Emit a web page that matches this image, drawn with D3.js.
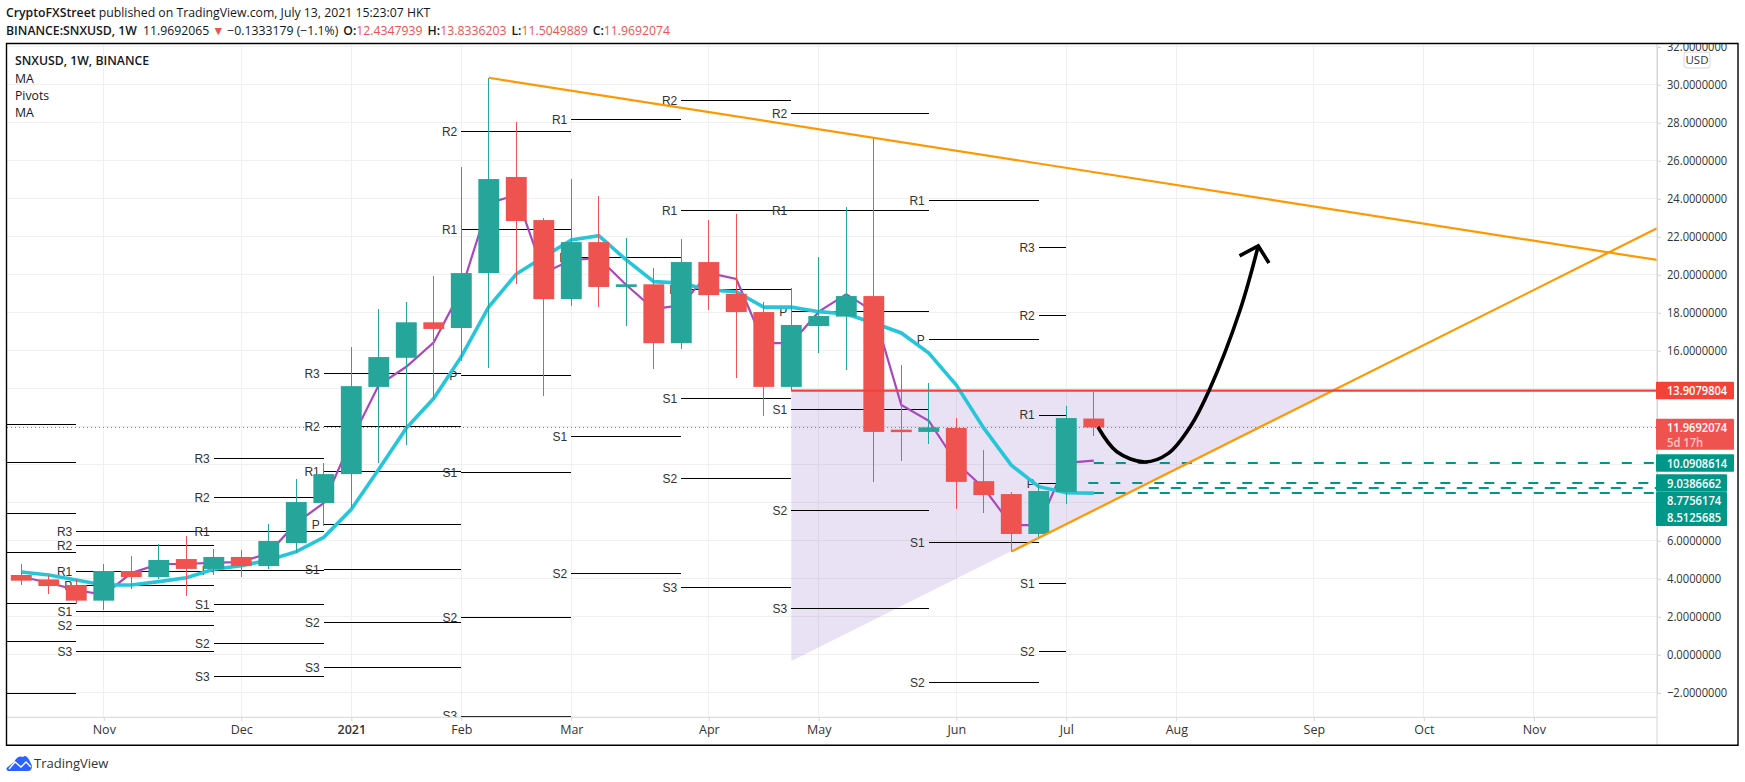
<!DOCTYPE html>
<html>
<head>
<meta charset="utf-8">
<script src="https://cdn.jsdelivr.net/npm/d3@7"></script>
<style>
    html, body { margin: 0; padding: 0; background: #fff; }
    svg { display: block; }
    text { font-family: "Open Sans", "Noto Sans", sans-serif; }
    .head { font-size: 12.25px; fill: #131722; }
    .pivot { font-family: "Liberation Sans", sans-serif; font-size: 12px; fill: #333; }
    .axis text { font-size: 12.5px; fill: #333; }
    .axis line, .axis path { stroke: #d6d6d6; }
</style>
</head>
<body>
<div id="chart"></div>
<script>
// weekly candles, index 0 = last week of Oct 2020
const opens = [4.2, 3.97, 3.67, 2.85, 4.41, 4.09, 5.04, 4.52, 5.15, 4.67, 5.88, 7.99, 9.51, 14.1, 15.63, 17.5, 17.2, 20.09, 25.15, 22.88, 18.72, 21.72, 19.36, 19.5, 16.4, 20.67, 19.0, 18.04, 14.1, 17.3, 17.8, 18.88, 11.85, 11.73, 11.94, 9.14, 8.46, 6.36, 8.57, 12.4348];
const highs = [4.78, 4.2, 3.99, 4.78, 5.2, 5.83, 6.25, 5.57, 5.51, 6.88, 9.25, 10.09, 16.2, 18.2, 18.56, 19.93, 25.7, 30.37, 28.04, 23.0, 25.04, 24.15, 21.96, 20.37, 21.9, 22.88, 23.2, 18.56, 19.3, 20.93, 23.57, 27.18, 15.25, 14.3, 12.46, 10.78, 8.57, 9.04, 13.09, 13.8336];
const lows = [3.67, 3.2, 2.69, 2.36, 3.46, 3.99, 3.09, 4.2, 4.09, 4.52, 5.36, 6.8, 7.73, 10.11, 11.04, 13.46, 15.46, 15.1, 19.5, 13.62, 18.36, 18.3, 17.3, 15.04, 16.1, 18.15, 14.57, 12.57, 13.9, 15.9, 14.98, 9.11, 10.2, 11.1, 7.67, 7.46, 5.43, 6.2, 7.94, 11.505];
const closes = [3.9, 3.62, 2.85, 4.41, 4.09, 4.99, 4.52, 5.15, 4.67, 5.99, 8.04, 9.51, 14.14, 15.67, 17.5, 17.15, 20.09, 25.04, 22.83, 18.72, 21.72, 19.36, 19.5, 16.4, 20.67, 18.93, 18.04, 14.1, 17.36, 17.83, 18.88, 11.73, 11.72, 11.97, 9.1, 8.41, 6.36, 8.62, 12.46, 11.9692];

const maShort = [4.11, 3.79, 3.41, 3.15, 4.3, 4.78, 4.78, 4.85, 4.88, 5.36, 6.94, 7.99, 11.3, 14.2, 15.16, 16.45, 19.2, 23.77, 24.2, 20.09, 20.78, 20.88, 19.46, 18.2, 18.4, 20.1, 19.78, 16.4, 16.4, 18.06, 18.98, 18.06, 13.15, 12.32, 10.1, 8.78, 6.83, 6.83, 10.1, 10.22];
const maLong = [4.36, 4.2, 3.94, 3.67, 3.67, 3.85, 4.06, 4.5, 4.69, 4.99, 5.43, 6.18, 7.66, 9.77, 11.93, 13.5, 15.69, 18.32, 20.04, 20.95, 21.83, 22.06, 20.78, 19.64, 19.56, 19.2, 19.11, 18.3, 18.3, 18.06, 17.94, 17.46, 16.94, 15.88, 14.2, 11.93, 9.98, 8.85, 8.53, 8.51];

const priceTicks = [32, 30, 28, 26, 24, 22, 20, 18, 16, 6, 4, 2, 0, -2];
const gridPrices = [32, 30, 28, 26, 24, 22, 20, 18, 16, 14, 12, 10, 8, 6, 4, 2, 0, -2];
const timeTicks = [3, 8, 12, 16, 20, 25, 29, 34, 38, 42, 47, 51, 55];
const timeLabels = ["Nov", "Dec", "2021", "Feb", "Mar", "Apr", "May", "Jun", "Jul", "Aug", "Sep", "Oct", "Nov"];

// pivot blocks: week span, then names and levels
const pivotSpans = [[-1, 2], [2, 7], [7, 11], [11, 16], [16, 20], [20, 24], [24, 28], [28, 33], [33, 37], [37, 38]];
const pivotNames = [
    ["", "", "", "", "", "", ""],
    ["R3", "R2", "R1", "P", "S1", "S2", "S3"],
    ["R3", "R2", "R1", "P", "S1", "S2", "S3"],
    ["R3", "R2", "R1", "P", "S1", "S2", "S3"],
    ["R2", "R1", "P", "S1", "S2", "S3"],
    ["R1", "P", "S1", "S2"],
    ["R2", "R1", "P", "S1", "S2", "S3"],
    ["R2", "R1", "P", "S1", "S2", "S3"],
    ["R1", "P", "S1", "S2"],
    ["R3", "R2", "R1", "P", "S1", "S2"]
];
const pivotLevels = [
    [12.13, 10.13, 7.45, 5.39, 2.71, 0.71, -2.03],
    [6.5, 5.76, 4.39, 3.66, 2.29, 1.55, 0.18],
    [10.34, 8.29, 6.5, 4.45, 2.66, 0.61, -1.13],
    [14.82, 12.0, 9.66, 6.87, 4.48, 1.71, -0.66],
    [27.55, 22.39, 14.71, 9.59, 1.98, -3.23],
    [28.18, 20.92, 11.5, 4.26],
    [29.18, 23.39, 19.24, 13.5, 9.29, 3.55],
    [28.5, 23.39, 18.08, 12.92, 7.6, 2.45],
    [23.92, 16.57, 5.92, -1.45],
    [21.45, 17.87, 12.62, 9.03, 3.76, 0.18]
];

// drawings, in week / price
const fallingLine = [[17, 30.37], [59.48, 20.78]];
const risingLine = [[36, 5.43], [59.48, 22.45]];
const resistanceLine = [[28, 13.908], [59.48, 13.908]];
const triangle = [[28, 13.908], [47.7, 13.908], [28, -0.33]];
const forecast = [[39.15, 11.99], [39.84, 10.69], [40.86, 10.15], [41.71, 10.6], [42.5, 11.99], [43.2, 13.94], [44.32, 18.15], [44.98, 21.52]];
const forecastHead = [[44.3, 21], [44.98, 21.52], [45.37, 20.62]];
const dashedLevels = [10.0908614, 9.0386662, 8.7756174, 8.5125685];
const dashedStarts = [39, 38.8, 41, 39];

const tagTexts = ["13.9079804", "11.9692074", "10.0908614", "9.0386662", "8.7756174", "8.5125685"];
const tagValues = [13.9079804, 11.9692074, 10.0908614, 9.0386662, 8.7756174, 8.5125685];
const tagColors = ["#f44336", "#ef5350", "#009688", "#009688", "#009688", "#009688"];
const tagShifts = [0, 0, 0, 0, 12.7, 24.3];

const width = 1745;
const height = 782;
const pane = { left: 6.5, right: 1657, top: 43.5, bottom: 717.3, outer: 1738, base: 745.3 };
const green = "#26a69a";
const red = "#ef5350";

const svg = d3.select("#chart").append("svg")
    .attr("width", width)
    .attr("height", height);

const x = d3.scaleLinear().domain([0, 55]).range([21.3, 1533.8]);
const y = d3.scaleLinear().domain([32, -2]).range([46.8, 692.8]);

const defs = svg.append("defs");
defs.append("clipPath").attr("id", "pane").append("rect")
    .attr("x", pane.left).attr("y", pane.top)
    .attr("width", pane.right - pane.left).attr("height", pane.bottom - pane.top);
defs.append("clipPath").attr("id", "priceClip").append("rect")
    .attr("x", pane.right).attr("y", pane.top)
    .attr("width", pane.outer - pane.right).attr("height", pane.bottom - pane.top);

const plot = svg.append("g").attr("clip-path", "url(#pane)");

// grid
plot.selectAll(".gh").data(gridPrices).enter().append("line")
    .attr("x1", pane.left).attr("x2", pane.right)
    .attr("y1", d => y(d)).attr("y2", d => y(d))
    .attr("stroke", "#f0f0f0").attr("shape-rendering", "crispEdges");
plot.selectAll(".gv").data(timeTicks).enter().append("line")
    .attr("x1", d => x(d)).attr("x2", d => x(d))
    .attr("y1", pane.top).attr("y2", pane.bottom)
    .attr("stroke", "#f0f0f0").attr("shape-rendering", "crispEdges");

const pt = d3.line().x(d => x(d[0])).y(d => y(d[1]));

plot.append("path")
    .attr("d", pt(triangle) + "Z")
    .attr("fill", "#673ab7")
    .attr("fill-opacity", 0.15);

// pivots
pivotSpans.forEach((span, b) => {
    pivotLevels[b].forEach((level, i) => {
        plot.append("line")
            .attr("x1", x(span[0])).attr("x2", x(span[1]))
            .attr("y1", y(level)).attr("y2", y(level))
            .attr("stroke", "#000").attr("shape-rendering", "crispEdges");
        plot.append("text")
            .attr("class", "pivot")
            .attr("x", x(span[0]) - 4).attr("y", y(level))
            .attr("dy", "0.36em")
            .attr("text-anchor", "end")
            .text(pivotNames[b][i]);
    });
});

// last price
plot.append("line")
    .attr("x1", pane.left).attr("x2", pane.right)
    .attr("y1", y(closes[39])).attr("y2", y(closes[39]))
    .attr("stroke", red).attr("stroke-dasharray", "1 3").attr("shape-rendering", "crispEdges");

const maLine = d3.line().x((d, i) => x(i)).y(d => y(d));
plot.append("path").attr("d", maLine(maShort)).attr("fill", "none").attr("stroke", "#ab47bc").attr("stroke-width", 2.2);
plot.append("path").attr("d", maLine(maLong)).attr("fill", "none").attr("stroke", "#26c6da").attr("stroke-width", 3.6);

// candles
const weeks = d3.range(opens.length);
const colour = i => closes[i] >= opens[i] ? green : red;
plot.selectAll(".wick").data(weeks).enter().append("line")
    .attr("x1", i => x(i)).attr("x2", i => x(i))
    .attr("y1", i => y(highs[i])).attr("y2", i => y(lows[i]))
    .attr("stroke", colour).attr("shape-rendering", "crispEdges");
const bodyWidth = (x(1) - x(0)) * 0.76;
plot.selectAll(".body").data(weeks).enter().append("rect")
    .attr("x", i => x(i) - bodyWidth / 2)
    .attr("y", i => y(Math.max(opens[i], closes[i])))
    .attr("width", bodyWidth)
    .attr("height", i => Math.max(2, Math.abs(y(opens[i]) - y(closes[i]))))
    .attr("fill", colour);

// drawings on top
plot.selectAll(".dash").data(dashedLevels).enter().append("line")
    .attr("x1", (d, i) => x(dashedStarts[i])).attr("x2", pane.right)
    .attr("y1", d => y(d)).attr("y2", d => y(d))
    .attr("stroke", "#009688").attr("stroke-width", 2).attr("stroke-dasharray", "10 12");
[fallingLine, risingLine].forEach(l => {
    plot.append("path").attr("d", pt(l)).attr("stroke", "#ff9800").attr("stroke-width", 2.2).attr("fill", "none");
});
plot.append("path").attr("d", pt(resistanceLine)).attr("stroke", "#f44336").attr("stroke-width", 2.2);
plot.append("path")
    .attr("d", d3.line().x(d => x(d[0])).y(d => y(d[1])).curve(d3.curveCatmullRom)(forecast))
    .attr("fill", "none").attr("stroke", "#000").attr("stroke-width", 3.6);
plot.append("path")
    .attr("d", pt(forecastHead))
    .attr("fill", "none").attr("stroke", "#000").attr("stroke-width", 3.6);

// axes
const squeeze = sel => sel.attr("textLength", function() { return this.textContent.length * 6.02; })
    .attr("lengthAdjust", "spacingAndGlyphs");

svg.append("g")
    .attr("clip-path", "url(#priceClip)")
    .append("g")
    .attr("class", "axis")
    .attr("transform", `translate(${pane.right},0)`)
    .call(d3.axisRight(y).tickValues(priceTicks).tickSize(4).tickPadding(6).tickFormat(d3.format(".7f")))
    .call(g => g.selectAll("text").style("font-size", "13px").call(squeeze));

svg.append("g")
    .attr("class", "axis")
    .attr("transform", `translate(0,${pane.bottom})`)
    .call(d3.axisBottom(x).tickValues(timeTicks).tickSize(4).tickPadding(4).tickFormat((d, i) => timeLabels[i]))
    .call(g => g.select(".domain").attr("d", `M${pane.left},0H${pane.right}`))
    .selectAll("text").attr("font-weight", (d, i) => timeLabels[i] === "2021" ? 600 : 400);

svg.append("line")
    .attr("x1", pane.right).attr("x2", pane.right)
    .attr("y1", pane.top).attr("y2", pane.base)
    .attr("stroke", "#d6d6d6");

// USD badge
svg.append("rect")
    .attr("x", 1684).attr("y", 52).attr("width", 26).attr("height", 16).attr("rx", 3)
    .attr("fill", "#fff").attr("stroke", "#d6d6e0");
svg.append("text")
    .attr("x", 1697).attr("y", 60).attr("dy", "0.36em")
    .attr("text-anchor", "middle").attr("font-size", 11.5).attr("fill", "#333").text("USD");

// price tags
tagTexts.forEach((t, i) => {
    const cy = y(tagValues[i]) + tagShifts[i];
    const big = i < 3;
    svg.append("rect")
        .attr("x", pane.right - 1).attr("y", cy - 8.7)
        .attr("width", big ? 78 : 71).attr("height", i === 1 ? 31 : 17.4)
        .attr("rx", 1).attr("fill", tagColors[i]);
    svg.append("text")
        .attr("x", pane.right + 10).attr("y", cy).attr("dy", "0.36em")
        .attr("font-size", 13).attr("font-weight", 600).attr("fill", "#fff").text(t)
        .call(squeeze);
});
svg.append("text")
    .attr("x", pane.right + 10).attr("y", y(tagValues[1]) + 15).attr("dy", "0.36em")
    .attr("font-size", 13).attr("font-weight", 600).attr("fill", "#fbc7c6").text("5d 17h")
    .call(squeeze);

// frame
svg.append("path")
    .attr("d", `M${pane.left},${pane.top}H${pane.outer}V${pane.base}H${pane.left}Z`)
    .attr("fill", "none").attr("stroke", "#000").attr("stroke-width", 1.4);

// header
const head1 = svg.append("text").attr("class", "head").attr("x", 6).attr("y", 17);
head1.append("tspan").attr("font-weight", 600).text("CryptoFXStreet");
head1.append("tspan").text(" published on TradingView.com, July 13, 2021 15:23:07 HKT");

const head2 = svg.append("text").attr("class", "head").attr("x", 6).attr("y", 34.5);
head2.append("tspan").attr("font-weight", 600).text("BINANCE:SNXUSD, 1W");
head2.append("tspan").attr("dx", 6).text("11.9692065");
head2.append("tspan").attr("dx", 3).attr("fill", red).text("▼");
head2.append("tspan").attr("dx", 3).text("−0.1333179 (−1.1%)");
[["O:", "12.4347939"], ["H:", "13.8336203"], ["L:", "11.5049889"], ["C:", "11.9692074"]].forEach(p => {
    head2.append("tspan").attr("dx", 5).attr("font-weight", 600).text(p[0]);
    head2.append("tspan").attr("fill", red).text(p[1]);
});

// legend
svg.append("text").attr("class", "head").attr("x", 15).attr("y", 65).attr("font-weight", 600).text("SNXUSD, 1W, BINANCE");
["MA", "Pivots", "MA"].forEach((t, i) => {
    svg.append("text").attr("class", "head").attr("x", 15).attr("y", 82.5 + i * 17.3).text(t);
});

// logo
svg.append("path")
    .attr("d", "M6.5,768 L14,762 Q18,755 23,757 Q27,753 32,766 Q32,771 28,771 H10 Q6,771 6.5,768Z")
    .attr("fill", "#2962ff");
svg.append("path")
    .attr("d", "M9,769 L15,762 L21,767 L26,762 L31,767")
    .attr("fill", "none").attr("stroke", "#fff").attr("stroke-width", 1.4);
svg.append("text").attr("x", 34).attr("y", 768).attr("font-size", 13).attr("fill", "#333").text("TradingView");
</script>
</body>
</html>
